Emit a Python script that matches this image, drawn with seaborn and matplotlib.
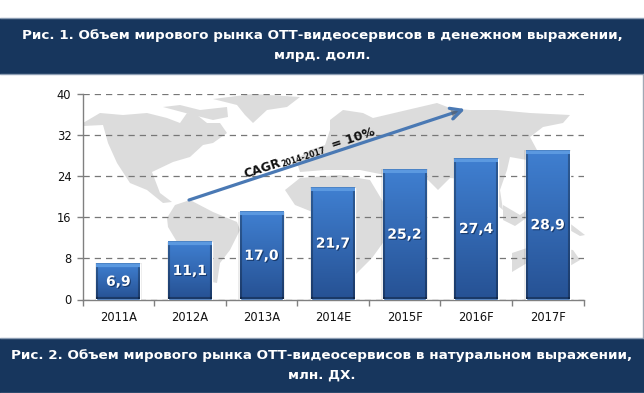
import numpy as np
import pandas as pd
import seaborn as sns
import matplotlib.pyplot as plt
import matplotlib.patheffects as pe
from matplotlib.patches import Rectangle, Polygon, FancyArrowPatch

years = ["2011A", "2012A", "2013A", "2014E", "2015F", "2016F", "2017F"]
values = [6.9, 11.1, 17.0, 21.7, 25.2, 27.4, 28.9]
y_ticks = [0, 8, 16, 24, 32, 40]

title_1 = "Рис. 1. Объем мирового рынка ОТТ-видеосервисов в денежном выражении,\nмлрд. долл."
title_2 = "Рис. 2. Объем мирового рынка ОТТ-видеосервисов в натуральном выражении,\nмлн. ДХ."

# rough world map behind the bars, in image pixels
north_america = [(83, 123), (100, 113), (123, 115), (147, 113), (167, 118), (180, 123), (187, 113),
                 (197, 115), (207, 123), (220, 123), (227, 133), (213, 143), (203, 145), (190, 157),
                 (173, 162), (152, 172), (160, 193), (172, 202), (163, 203), (147, 190), (130, 183),
                 (117, 163), (108, 143), (103, 125), (83, 126)]
arctic = [(163, 107), (180, 105), (200, 110), (227, 107), (228, 117), (213, 120), (193, 115)]
greenland = [(213, 99), (253, 94), (300, 97), (287, 107), (267, 110), (253, 123), (245, 115), (237, 105)]
south_america = [(175, 205), (190, 200), (213, 212), (237, 222), (240, 230), (230, 250), (220, 263),
                 (217, 283), (212, 282), (205, 263), (180, 247), (168, 227), (167, 218)]
africa = [(285, 190), (300, 178), (340, 175), (370, 180), (385, 205), (400, 215), (385, 240),
          (372, 258), (345, 285), (330, 250), (320, 215), (295, 205)]
eurasia = [(330, 120), (343, 110), (363, 113), (373, 118), (407, 110), (437, 103), (450, 108),
           (470, 110), (497, 110), (530, 113), (570, 115), (563, 123), (543, 127), (530, 137),
           (537, 150), (527, 160), (510, 157), (507, 170), (500, 190), (503, 210), (497, 205),
           (475, 180), (450, 178), (438, 190), (428, 180), (410, 176), (385, 175), (360, 170),
           (345, 170), (325, 170), (300, 172), (296, 160), (310, 150), (325, 145), (330, 130)]
indonesia = [(503, 205), (520, 215), (530, 208), (535, 212), (515, 226), (503, 220)]
new_guinea = [(568, 222), (585, 235), (580, 236), (566, 228)]
australia = [(512, 253), (527, 248), (543, 247), (573, 250), (580, 260), (563, 270), (543, 270),
             (527, 263), (512, 272)]
land = [north_america, arctic, greenland, south_america, africa, eurasia, indonesia, new_guinea, australia]


def pixel_ax(fig):
    bg = fig.add_axes([0, 0, 1, 1], zorder=0)
    bg.set_xlim(0, 644)
    bg.set_ylim(393, 0)
    bg.axis("off")
    return bg


def header(bg, top, bottom, text, y1, size):
    bg.add_patch(Rectangle((0, top), 644, bottom - top, facecolor="#17365d", edgecolor="none"))
    bg.plot([0, 644], [top, top], color="#8c9db3", lw=1)
    bg.plot([0, 644], [bottom, bottom], color="#8c9db3", lw=1)
    bg.text(322, y1, text, color="white", fontweight="bold", fontsize=size,
            ha="center", va="center", linespacing=1.69)


def bar_image(h, w):
    # vertical gradient with a light bevel on top and dark edges
    t = np.linspace(0, 1, h)[:, None, None]
    top = np.array([0.25, 0.50, 0.82])
    low = np.array([0.15, 0.32, 0.58])
    img = np.ones((h, w, 3)) * (top * (1 - t) + low * t)
    img[:, :2] *= 0.72
    img[:, -2:] *= 0.72
    img[-2:, :] *= 0.7
    img[:4, :] = [0.36, 0.60, 0.88]
    img[0, :] = [0.30, 0.52, 0.78]
    return img


def grafico():
    sns.set_style("white")
    plt.rcParams["font.family"] = ["DejaVu Sans"]

    fig = plt.figure(figsize=(6.44, 3.93), dpi=100)
    bg = pixel_ax(fig)

    for shape in land:
        bg.add_patch(Polygon(shape, closed=True, facecolor="#dcdcdc", edgecolor="none"))
    bg.plot([643.5, 643.5], [74, 338], color="#a0a8b4", lw=1)

    header(bg, 18, 74, title_1, 45.5, 9.7)
    header(bg, 338, 393, title_2, 365.5, 9.7)

    ax = fig.add_axes([82.5 / 644, 1 - 299.5 / 393, 501 / 644, 205.8 / 393], zorder=1)
    ax.patch.set_alpha(0)
    df = pd.DataFrame({"anno": years, "valore": values})
    sns.barplot(data=df, x="anno", y="valore", color="#2f66ad", width=0.61, saturation=1, ax=ax, zorder=3)
    ax.set_xlim(-0.5, 6.5)
    ax.set_ylim(0, 40)
    ax.set_xlabel("")
    ax.set_ylabel("")

    ax.set_yticks(y_ticks)
    ax.yaxis.grid(True, color="#777777", linestyle=(0, (5, 4)), lw=0.9)
    ax.set_axisbelow(True)
    ax.set_xticks(np.arange(-0.5, 7), minor=True)
    ax.tick_params(axis="x", which="minor", length=4, width=1, color="#808080", bottom=True)
    ax.tick_params(axis="x", which="major", length=0, pad=8, labelsize=8.3, labelcolor="#111111")
    ax.tick_params(axis="y", length=4, width=1, color="#808080", left=True, pad=4,
                   labelsize=8.3, labelcolor="#111111")
    sns.despine(ax=ax, top=True, right=True)
    for side in ["left", "bottom"]:
        ax.spines[side].set_color("#808080")
        ax.spines[side].set_linewidth(1)

    bars = ax.containers[0]
    px_h = 205.8 / 40
    px_w = 501 / 7
    for rect in bars:
        x, w, h = rect.get_x(), rect.get_width(), rect.get_height()
        ax.add_patch(Rectangle((x - 0.02, 0), w + 0.04, h + 0.1, facecolor="#000000",
                               alpha=0.08, edgecolor="none", zorder=2))
        img = bar_image(max(int(h * px_h), 5), int(w * px_w))
        ax.imshow(img, extent=(x, x + w, 0, h), aspect="auto", zorder=4, interpolation="bilinear")
    ax.set_xlim(-0.5, 6.5)
    ax.set_ylim(0, 40)

    labels = [f"{v:.1f}".replace(".", ",") for v in values]
    texts = ax.bar_label(bars, labels=labels, label_type="center", color="white",
                         fontweight="bold", fontsize=10, zorder=6)
    for t in texts:
        t.set_zorder(6)
        t.set_path_effects([pe.withSimplePatchShadow(offset=(0.8, -0.8), shadow_rgbFace="#12305c", alpha=0.8)])

    # CAGR arrow
    arrow = FancyArrowPatch((189, 200), (465, 109), transform=bg.transData, arrowstyle="->,head_length=8,head_width=4",
                            color="#4a79b4", lw=2.3, zorder=7, clip_on=False, shrinkA=0, shrinkB=0,
                            mutation_scale=1,
                            path_effects=[pe.withSimplePatchShadow(offset=(0.8, -1), shadow_rgbFace="#555555", alpha=0.5)])
    ax.add_patch(arrow)
    cagr = [("CAGR", 245, 178.5, 8.8), ("2014-2017", 282, 167, 5.6), ("= 10%", 333, 149, 9.0)]
    for txt, x, y, size in cagr:
        ax.text(x, y, txt, transform=bg.transData, rotation=18.3, rotation_mode="anchor",
                ha="left", va="baseline", fontweight="bold", fontsize=size, color="#111111", zorder=8)

    fig.savefig("out.png", dpi=100)


grafico()
